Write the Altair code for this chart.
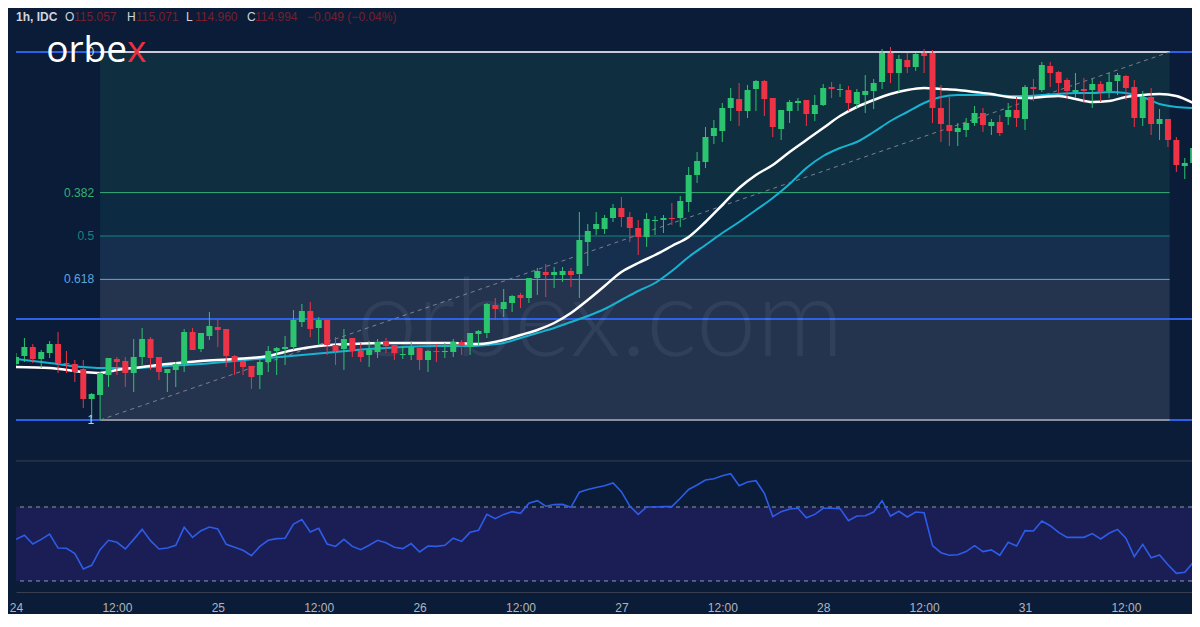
import altair as alt
import pandas as pd

# ---------------- data (USD/JPY style hourly candles) ----------------
bars = list(range(141))
opens = [114.180, 114.220, 114.265, 114.205, 114.235, 114.280, 114.185, 114.180, 114.155, 114.005,
         114.025, 114.125, 114.205, 114.195, 114.135, 114.215, 114.305, 114.215, 114.135, 114.150,
         114.180, 114.340, 114.255, 114.320, 114.365, 114.355, 114.220, 114.195, 114.170, 114.125,
         114.190, 114.245, 114.255, 114.265, 114.390, 114.445, 114.360, 114.400, 114.275, 114.255,
         114.310, 114.245, 114.225, 114.240, 114.290, 114.275, 114.225, 114.225, 114.260, 114.200,
         114.245, 114.240, 114.240, 114.290, 114.265, 114.330, 114.335, 114.475, 114.455, 114.485,
         114.525, 114.510, 114.610, 114.640, 114.625, 114.625, 114.645, 114.630, 114.790, 114.855,
         114.855, 114.910, 114.960, 114.915, 114.860, 114.815, 114.895, 114.900, 114.910, 114.910,
         114.990, 115.125, 115.190, 115.320, 115.345, 115.460, 115.505, 115.445, 115.555, 115.595,
         115.510, 115.355, 115.445, 115.485, 115.500, 115.430, 115.475, 115.565, 115.550, 115.550,
         115.480, 115.525, 115.545, 115.590, 115.735, 115.635, 115.700, 115.665, 115.735, 115.735,
         115.460, 115.375, 115.340, 115.350, 115.385, 115.435, 115.370, 115.390, 115.415, 115.450,
         115.405, 115.565, 115.550, 115.670, 115.640, 115.600, 115.540, 115.555, 115.550, 115.580,
         115.545, 115.595, 115.620, 115.565, 115.410, 115.515, 115.380, 115.405, 115.300, 115.170,
         115.185]
highs = [114.235, 114.310, 114.280, 114.250, 114.295, 114.340, 114.245, 114.200, 114.200, 114.035,
         114.140, 114.210, 114.215, 114.215, 114.305, 114.360, 114.315, 114.215, 114.155, 114.190,
         114.355, 114.360, 114.335, 114.440, 114.400, 114.355, 114.225, 114.200, 114.170, 114.205,
         114.270, 114.265, 114.320, 114.450, 114.480, 114.490, 114.415, 114.400, 114.315, 114.355,
         114.310, 114.285, 114.295, 114.305, 114.310, 114.275, 114.270, 114.295, 114.260, 114.250,
         114.280, 114.285, 114.305, 114.300, 114.335, 114.350, 114.485, 114.510, 114.555, 114.525,
         114.535, 114.610, 114.660, 114.680, 114.665, 114.665, 114.660, 114.940, 114.880, 114.940,
         114.925, 114.980, 115.015, 114.940, 114.900, 114.935, 114.920, 114.925, 114.985, 115.020,
         115.165, 115.240, 115.365, 115.400, 115.485, 115.560, 115.585, 115.575, 115.600, 115.600,
         115.510, 115.450, 115.500, 115.510, 115.500, 115.525, 115.580, 115.590, 115.580, 115.570,
         115.555, 115.625, 115.605, 115.755, 115.765, 115.725, 115.735, 115.735, 115.755, 115.750,
         115.575, 115.515, 115.385, 115.410, 115.470, 115.460, 115.405, 115.425, 115.485, 115.515,
         115.575, 115.605, 115.690, 115.690, 115.645, 115.610, 115.635, 115.610, 115.605, 115.595,
         115.635, 115.635, 115.625, 115.600, 115.545, 115.560, 115.455, 115.405, 115.315, 115.210,
         115.290]
lows = [114.170, 114.190, 114.185, 114.160, 114.210, 114.135, 114.135, 114.090, 113.960, 113.910,
        113.900, 114.065, 114.125, 114.065, 114.040, 114.175, 114.150, 114.100, 114.040, 114.065,
        114.140, 114.250, 114.240, 114.300, 114.265, 114.165, 114.125, 114.125, 114.055, 114.055,
        114.140, 114.125, 114.175, 114.250, 114.365, 114.315, 114.275, 114.225, 114.175, 114.150,
        114.215, 114.190, 114.165, 114.210, 114.235, 114.200, 114.205, 114.200, 114.150, 114.140,
        114.190, 114.210, 114.215, 114.225, 114.225, 114.275, 114.310, 114.400, 114.415, 114.440,
        114.460, 114.485, 114.525, 114.515, 114.560, 114.590, 114.565, 114.510, 114.670, 114.825,
        114.830, 114.890, 114.865, 114.790, 114.725, 114.765, 114.825, 114.835, 114.875, 114.865,
        114.940, 115.085, 115.160, 115.280, 115.290, 115.395, 115.370, 115.410, 115.445, 115.420,
        115.315, 115.300, 115.385, 115.445, 115.370, 115.395, 115.470, 115.510, 115.515, 115.445,
        115.460, 115.435, 115.455, 115.555, 115.585, 115.540, 115.635, 115.645, 115.635, 115.385,
        115.290, 115.270, 115.270, 115.315, 115.370, 115.340, 115.325, 115.320, 115.375, 115.365,
        115.350, 115.495, 115.540, 115.565, 115.530, 115.505, 115.510, 115.485, 115.460, 115.490,
        115.510, 115.525, 115.500, 115.365, 115.370, 115.325, 115.300, 115.265, 115.140, 115.105,
        115.160]
closes = [114.215, 114.265, 114.205, 114.240, 114.280, 114.185, 114.180, 114.140, 114.005, 114.030,
          114.135, 114.210, 114.190, 114.135, 114.215, 114.305, 114.210, 114.140, 114.155, 114.180,
          114.340, 114.250, 114.335, 114.370, 114.350, 114.220, 114.190, 114.165, 114.115, 114.190,
          114.245, 114.260, 114.265, 114.400, 114.445, 114.355, 114.400, 114.275, 114.245, 114.305,
          114.245, 114.215, 114.250, 114.290, 114.270, 114.235, 114.230, 114.265, 114.200, 114.245,
          114.240, 114.245, 114.290, 114.270, 114.335, 114.345, 114.480, 114.455, 114.490, 114.520,
          114.510, 114.610, 114.645, 114.625, 114.640, 114.645, 114.625, 114.800, 114.845, 114.880,
          114.910, 114.960, 114.915, 114.860, 114.815, 114.905, 114.900, 114.910, 114.905, 114.995,
          115.125, 115.195, 115.315, 115.360, 115.460, 115.510, 115.445, 115.550, 115.595, 115.505,
          115.365, 115.450, 115.490, 115.495, 115.430, 115.475, 115.560, 115.555, 115.555, 115.485,
          115.540, 115.545, 115.585, 115.735, 115.635, 115.705, 115.665, 115.730, 115.720, 115.460,
          115.380, 115.345, 115.360, 115.385, 115.435, 115.375, 115.390, 115.335, 115.450, 115.410,
          115.565, 115.555, 115.675, 115.635, 115.585, 115.545, 115.550, 115.545, 115.580, 115.540,
          115.590, 115.625, 115.560, 115.410, 115.515, 115.380, 115.405, 115.300, 115.175, 115.185,
          115.260]

# moving averages (read at every few bars)
ma_fast_bars = [0, 4, 8, 10, 12, 15, 18, 22, 26, 30, 33, 36, 40, 44, 48, 52, 55, 58, 60, 62, 64,
                66, 68, 70, 72, 74, 76, 78, 80, 82, 84, 86, 88, 90, 92, 94, 96, 98, 100, 102, 104,
                106, 108, 110, 112, 114, 116, 118, 120, 122, 124, 126, 128, 130, 132, 134, 136, 138, 140]
ma_fast_vals = [114.165, 114.160, 114.140, 114.135, 114.150, 114.165, 114.180, 114.195, 114.205,
                114.220, 114.250, 114.270, 114.280, 114.285, 114.285, 114.285, 114.280, 114.300,
                114.325, 114.350, 114.385, 114.435, 114.500, 114.570, 114.640, 114.685, 114.725,
                114.770, 114.815, 114.890, 114.975, 115.060, 115.125, 115.175, 115.240, 115.300,
                115.360, 115.420, 115.465, 115.500, 115.530, 115.550, 115.560, 115.555, 115.550,
                115.540, 115.530, 115.515, 115.510, 115.515, 115.520, 115.505, 115.490, 115.495,
                115.515, 115.525, 115.530, 115.520, 115.485]
ma_slow_bars = [0, 4, 8, 10, 14, 18, 22, 26, 30, 34, 38, 42, 46, 50, 54, 56, 58, 60, 62, 64, 66,
                68, 70, 72, 74, 76, 78, 80, 82, 84, 86, 88, 90, 92, 94, 96, 98, 100, 102, 104, 106,
                108, 110, 112, 114, 116, 118, 120, 122, 124, 126, 128, 130, 132, 134, 136, 138, 140]
ma_slow_vals = [114.205, 114.185, 114.165, 114.160, 114.160, 114.170, 114.180, 114.195, 114.210,
                114.225, 114.240, 114.255, 114.265, 114.270, 114.270, 114.275, 114.285, 114.310,
                114.335, 114.360, 114.390, 114.420, 114.455, 114.500, 114.545, 114.585, 114.645,
                114.715, 114.775, 114.835, 114.890, 114.950, 115.010, 115.080, 115.160, 115.220,
                115.260, 115.290, 115.340, 115.395, 115.440, 115.485, 115.515, 115.525, 115.525,
                115.525, 115.520, 115.520, 115.525, 115.530, 115.535, 115.535, 115.540, 115.535,
                115.515, 115.480, 115.465, 115.460]

# RSI(14), one value per bar
rsi = [52.5, 54.7, 50.0, 52.5, 55.4, 47.8, 47.7, 44.8, 36.5, 38.5, 46.9, 52.0, 50.9, 47.3, 52.5,
       57.9, 51.8, 47.3, 47.8, 49.3, 59.0, 53.6, 57.2, 59.2, 58.1, 49.8, 48.2, 46.6, 43.7, 48.7,
       52.0, 52.9, 53.1, 60.8, 63.2, 56.5, 58.5, 50.0, 48.7, 52.5, 48.7, 46.9, 49.3, 52.0, 50.7,
       48.2, 47.5, 50.2, 45.7, 48.9, 48.7, 49.3, 53.1, 51.4, 56.3, 57.4, 66.0, 63.7, 66.0, 67.5,
       66.6, 72.0, 73.4, 70.4, 71.3, 71.4, 69.8, 78.0, 79.5, 80.5, 81.5, 83.0, 78.3, 70.5, 66.0,
       70.0, 70.0, 70.2, 70.2, 74.7, 79.5, 81.9, 84.6, 85.3, 86.9, 88.0, 81.5, 83.5, 84.2, 77.4,
       64.8, 67.5, 68.9, 69.3, 64.2, 66.0, 69.3, 69.3, 69.1, 62.6, 65.1, 65.3, 67.3, 73.4, 65.1,
       67.7, 64.6, 67.3, 66.9, 49.1, 45.3, 43.9, 44.2, 45.9, 49.1, 45.9, 46.8, 43.9, 50.9, 48.9,
       57.2, 57.0, 62.4, 59.9, 56.3, 53.6, 53.6, 53.6, 55.6, 52.7, 55.8, 57.9, 53.1, 43.2, 49.8,
       42.6, 44.1, 38.8, 34.1, 34.7, 40.1]
rsi_levels = [70, 30]
rsi_pane_top = [94.9]

# Fibonacci retracement drawn from the low (bar 10) to the high
fib_ratios = ["0", "0.382", "0.5", "0.618", "1"]
fib_prices = [115.740, 115.037, 114.820, 114.603, 113.900]
fib_span = [10, 137.2]
trend_bars = [10, 137.2]
trend_prices = [113.900, 115.740]
hlines = [115.740, 114.405, 113.900]

tick_bars = [0, 12, 24, 36, 48, 60, 72, 84, 96, 108, 120, 132]
tick_labels = ["24", "12:00", "25", "12:00", "26", "12:00", "27", "12:00", "28", "12:00", "31", "12:00"]

# ---------------- styles ----------------
BG = "#0b1c38"
GREEN, RED = "#2bc46f", "#ee3347"
FIB_LINE_COLORS = ["#c9ccd6", "#35b074", "#14867c", "#5aa8e0", "#8c909c"]
FIB_LINE_WIDTHS = [2, 1, 1, 1, 2]
FIB_ZONE_COLORS = ["#0f2e3f", "#0d2a43", "#172f4f", "#24344f"]
FIB_LABEL_COLORS = ["#d1d4dc", "#35b074", "#14867c", "#5aa8e0", "#c9ccd6"]
W, H = 1176, 584
FONT = "Liberation Sans"

x_scale = alt.Scale(domain=[0, 139.86], nice=False, zero=False, padding=0)
p_scale = alt.Scale(domain=[113.04, 115.96], nice=False, zero=False, padding=0)
r_scale = alt.Scale(domain=[24.05, 339.73], nice=False, zero=False, padding=0)

label_expr = " : ".join(f"datum.value == {b} ? '{t}'" for b, t in zip(tick_bars, tick_labels)) + " : ''"
x_axis = alt.Axis(values=tick_bars, labelExpr=label_expr, title=None, ticks=False, grid=False,
                  domain=True, domainColor="#383e50", domainWidth=1, labelColor="#b2b5be",
                  labelFontSize=12, labelFont=FONT, labelPadding=10, labelAngle=0,
                  labelOverlap=False, labelFlush=False)


def X(field):
    return alt.X(field, type="quantitative", scale=x_scale, axis=x_axis)


def PY(field):
    return alt.Y(field, type="quantitative", scale=p_scale, axis=None)


def RY(field):
    return alt.Y(field, type="quantitative", scale=r_scale, axis=None)


candles = pd.DataFrame({"i": bars, "o": opens, "h": highs, "l": lows, "c": closes})
fib_lines = pd.DataFrame({"p": fib_prices, "r": fib_ratios, "col": FIB_LINE_COLORS,
                          "lc": FIB_LABEL_COLORS, "w": FIB_LINE_WIDTHS,
                          "x0": fib_span[0], "x1": fib_span[1]})
fib_zones = pd.DataFrame({"top": fib_prices[:-1], "bot": fib_prices[1:], "col": FIB_ZONE_COLORS,
                          "x0": fib_span[0], "x1": fib_span[1]})
trend = pd.DataFrame({"x0": [trend_bars[0]], "x1": [trend_bars[1]],
                      "p0": [trend_prices[0]], "p1": [trend_prices[1]]})
ma_fast = pd.DataFrame({"i": ma_fast_bars, "v": ma_fast_vals})
ma_slow = pd.DataFrame({"i": ma_slow_bars, "v": ma_slow_vals})
rsi_df = pd.DataFrame({"i": bars, "rsi": rsi})

candle_color = alt.condition("datum.c >= datum.o", alt.value(GREEN), alt.value(RED))

zones = alt.Chart(fib_zones).mark_rect().encode(
    x=X("x0"), x2="x1", y=PY("top"), y2="bot", fill=alt.Fill("col:N", scale=None))

blue_lines = alt.Chart(pd.DataFrame({"p": hlines})).mark_rule(
    color="#2d62e8", strokeWidth=2).encode(y=PY("p"))

fib_rules = alt.Chart(fib_lines).mark_rule().encode(
    x=X("x0"), x2="x1", y=PY("p"), stroke=alt.Stroke("col:N", scale=None),
    strokeWidth=alt.StrokeWidth("w:Q", scale=None))

fib_text = alt.Chart(fib_lines).mark_text(align="right", baseline="middle", dx=-6,
                                          font=FONT, fontSize=12).encode(
    x=X("x0"), y=PY("p"), text="r:N", color=alt.Color("lc:N", scale=None))

trend_line = alt.Chart(trend).mark_rule(color="#7d808c", strokeWidth=1, strokeDash=[4, 4]).encode(
    x=X("x0"), x2="x1", y=PY("p0"), y2="p1")

watermark = alt.Chart(alt.Data(values=[{}])).mark_text(
    text="orbex.com", align="center", baseline="alphabetic", font="Lato", fontWeight=300,
    fontSize=108, color="#ffffff", opacity=0.06).encode(x=alt.value(584), y=alt.value(348))

slow_line = alt.Chart(ma_slow).mark_line(color="#17b4d2", strokeWidth=2, interpolate="monotone",
                                         clip=True).encode(x=X("i"), y=PY("v"))
fast_line = alt.Chart(ma_fast).mark_line(color="#ffffff", strokeWidth=2.5, interpolate="monotone",
                                         clip=True).encode(x=X("i"), y=PY("v"))

wicks = alt.Chart(candles).mark_rule(strokeWidth=1, clip=True).encode(
    x=X("i"), y=PY("l"), y2="h", color=candle_color)

bodies = alt.Chart(candles).transform_calculate(
    bt="max(datum.o, datum.c)", bb="min(datum.o, datum.c)"
).transform_calculate(
    bb2="datum.bt - datum.bb < 0.005 ? datum.bt - 0.005 : datum.bb"
).mark_bar(size=6, clip=True).encode(x=X("i"), y=PY("bt"), y2="bb2", color=candle_color)

# RSI pane
rsi_band = alt.Chart(pd.DataFrame({"a": [rsi_levels[1]], "b": [rsi_levels[0]]})).mark_rect(
    color="#1b1e55").encode(y=RY("a"), y2="b", x=alt.value(0), x2=alt.value(W))
rsi_dash = alt.Chart(pd.DataFrame({"v": rsi_levels})).mark_rule(
    color="#9398a8", strokeWidth=1, strokeDash=[4, 4]).encode(y=RY("v"))
pane_sep = alt.Chart(pd.DataFrame({"v": rsi_pane_top})).mark_rule(
    color="#383e50", strokeWidth=1).encode(y=RY("v"))
rsi_line = alt.Chart(rsi_df).mark_line(color="#2c5ce8", strokeWidth=1.6, clip=True).encode(
    x=X("i"), y=RY("rsi"))


def note(text, x, y, color, size=12, weight="normal", align="left", font=FONT, baseline="middle"):
    return alt.Chart(alt.Data(values=[{}])).mark_text(
        text=text, align=align, baseline=baseline, font=font, fontSize=size, fontWeight=weight,
        color=color).encode(x=alt.value(x), y=alt.value(y))


HDR = "#d1d4dc"
VAL = "#76202e"
header = [
    note("1h, IDC", 0, 9, HDR, weight="bold"),
    note("O", 49, 9, HDR), note("115.057", 58, 9, VAL),
    note("H", 111, 9, HDR), note("115.071", 120, 9, VAL),
    note("L", 170, 9, HDR), note("114.960", 179, 9, VAL),
    note("C", 231, 9, HDR), note("114.994", 239, 9, VAL),
    note("\u22120.049 (\u22120.04%)", 291, 9, VAL),
]
logo = [
    note("orbe", 111, 54, "#ffffff", size=37, align="right", font="Open Sans", baseline="alphabetic"),
    note("x", 111, 54, "#e8303f", size=37, align="left", font="Open Sans", baseline="alphabetic"),
]

chart = alt.layer(
    zones, blue_lines, fib_rules, trend_line, watermark, slow_line, fast_line, wicks, bodies,
    fib_text, rsi_band, rsi_dash, pane_sep, rsi_line, *header, *logo
).resolve_scale(y="independent").properties(
    width=W, height=H, background=BG,
    padding={"left": 8, "top": 0, "right": 0, "bottom": 22},
    autosize=alt.AutoSizeParams(type="none"),
).configure_view(strokeWidth=0)

chart.save("out.html", embed_options={"renderer": "svg", "actions": False})
